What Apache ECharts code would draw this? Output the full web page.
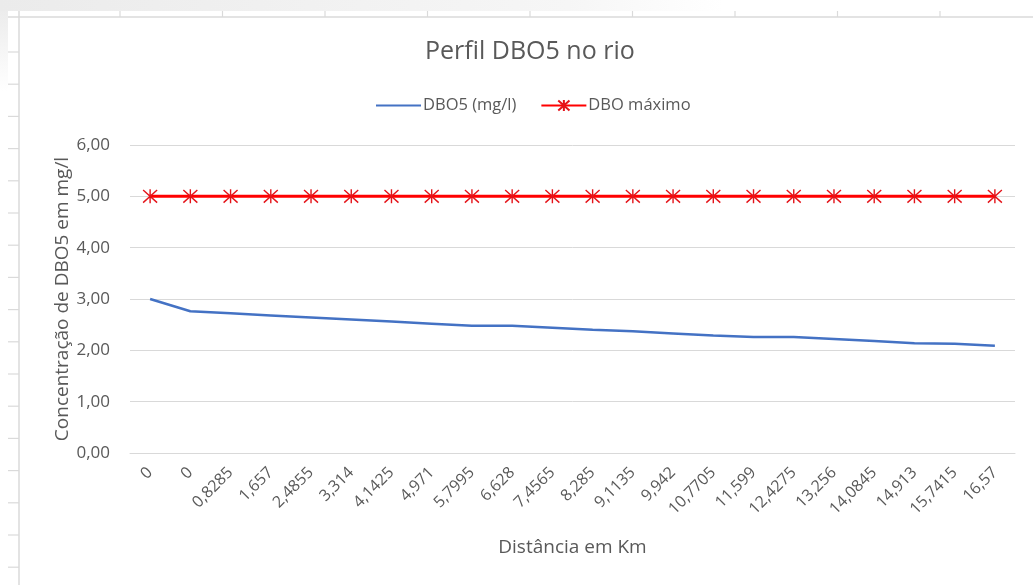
<!DOCTYPE html>
<html><head><meta charset="utf-8">
<script src="https://cdn.jsdelivr.net/npm/echarts@6/dist/echarts.min.js"></script>
<style>html,body{margin:0;padding:0;background:#fff}#c{width:1033px;height:585px}</style>
</head><body><div id="c"></div>
<script>
const categories = ['0','0','0,8285','1,657','2,4855','3,314','4,1425','4,971','5,7995','6,628','7,4565','8,285','9,1135','9,942','10,7705','11,599','12,4275','13,256','14,0845','14,913','15,7415','16,57'];
const dbo5 = [3.00,2.76,2.72,2.68,2.64,2.60,2.56,2.52,2.48,2.48,2.44,2.40,2.37,2.33,2.29,2.26,2.26,2.22,2.18,2.14,2.13,2.09];
const dboMax = [5,5,5,5,5,5,5,5,5,5,5,5,5,5,5,5,5,5,5,5,5,5];
const yTicks = {min:0, max:6, interval:1};

const FONT = '"Open Sans", "Noto Sans", sans-serif';
const TXT = '#595959';
const chart = echarts.init(document.getElementById('c'), null, {renderer:'canvas'});

// decorative spreadsheet frame
const deco = [];
deco.push({type:'rect', shape:{x:0,y:0,width:1033,height:11}, style:{fill:new echarts.graphic.LinearGradient(0,0,1,0,[{offset:0,color:'#ebebeb'},{offset:0.55,color:'#f6f6f6'},{offset:0.7,color:'#ffffff'}])}, silent:true});
deco.push({type:'rect', shape:{x:0,y:11,width:8,height:80}, style:{fill:new echarts.graphic.LinearGradient(0,0,0,1,[{offset:0,color:'#ececec'},{offset:1,color:'#ffffff'}])}, silent:true});
deco.push({type:'line', shape:{x1:8,y1:17,x2:1033,y2:17}, style:{stroke:'#dadada',lineWidth:1.5}, silent:true});
deco.push({type:'line', shape:{x1:19,y1:11,x2:19,y2:585}, style:{stroke:'#dadada',lineWidth:1.5}, silent:true});
for (let i=0;i<9;i++){ const x=120+i*102.5; deco.push({type:'line', shape:{x1:x,y1:11,x2:x,y2:17}, style:{stroke:'#dadada',lineWidth:1.2}, silent:true}); }
for (let i=0;i<17;i++){ const y=52+i*32.2; deco.push({type:'line', shape:{x1:8,y1:y,x2:19,y2:y}, style:{stroke:'#dadada',lineWidth:1.2}, silent:true}); }

const asterisk = 'path://M10,0L10,20M1,1L19,19M19,1L1,19';

chart.setOption({
  animation:false,
  backgroundColor:'#fff',
  graphic: deco,
  title:{text:'Perfil DBO5 no rio', left:420, top:34, textStyle:{fontFamily:FONT, fontSize:25, fontWeight:'normal', color:TXT}},
  legend:{top:92, left:370, itemWidth:45, itemHeight:14, itemGap:24,
    textStyle:{fontFamily:FONT, fontSize:16.5, color:TXT, padding:[0,0,0,-3]},
    data:[{name:'DBO5 (mg/l)', itemStyle:{opacity:0}}, {name:'DBO máximo'}]},
  grid:{left:130, right:18, top:145, bottom:132, containLabel:false},
  xAxis:{type:'category', data:categories, boundaryGap:true,
    name:'Distância em Km', nameLocation:'middle', nameGap:85, nameMoveOverlap:false,
    nameTextStyle:{fontFamily:FONT, fontSize:19, color:TXT},
    axisLine:{lineStyle:{color:'#d9d9d9', width:1}}, axisTick:{show:false},
    axisLabel:{interval:0, rotate:45, margin:17, fontFamily:FONT, fontSize:16, color:TXT}},
  yAxis:{type:'value', min:yTicks.min, max:yTicks.max, interval:yTicks.interval,
    name:'Concentração de DBO5 em mg/l', nameLocation:'middle', nameGap:58, nameMoveOverlap:false,
    nameTextStyle:{fontFamily:FONT, fontSize:19, color:TXT},
    axisLine:{show:false}, axisTick:{show:false},
    splitLine:{lineStyle:{color:'#d9d9d9', width:1}},
    axisLabel:{margin:20, fontFamily:FONT, fontSize:17, color:TXT, formatter:v=>v.toFixed(2).replace('.',',')}},
  series:[
    {name:'DBO5 (mg/l)', type:'line', data:dbo5, showSymbol:false, symbol:'none',
      lineStyle:{color:'#4472c4', width:2.5}, itemStyle:{color:'#4472c4'}},
    {name:'DBO máximo', type:'line', data:dboMax, symbol:asterisk, symbolSize:14, showSymbol:true,
      lineStyle:{color:'#ff0000', width:3},
      itemStyle:{color:'#ff0000', borderColor:'#e4141a', borderWidth:1.4}}
  ]
});
</script></body></html>
